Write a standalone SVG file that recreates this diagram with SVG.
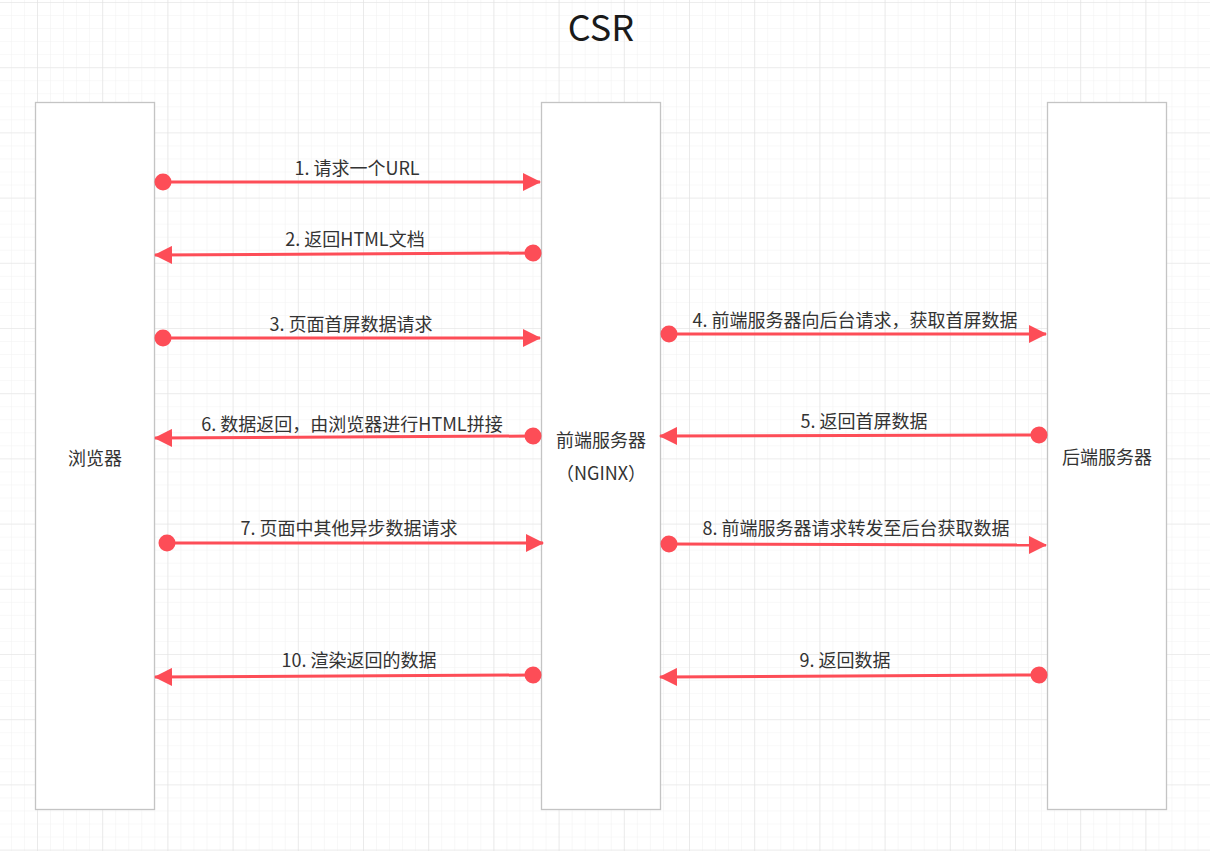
<svg xmlns="http://www.w3.org/2000/svg" width="1210" height="851" viewBox="0 0 1210 851">
<defs>
<pattern id="minor" x="37" y="2" width="13.04" height="13.04" patternUnits="userSpaceOnUse">
<path d="M0 0H13.04M0 0V13.04" fill="none" stroke="#f1f1f1" stroke-width="1"/>
</pattern>
<pattern id="major" x="37" y="2" width="65.2" height="65.2" patternUnits="userSpaceOnUse">
<path d="M0 0H65.2M0 0V65.2" fill="none" stroke="#e2e2e2" stroke-width="1.2"/>
</pattern>
<marker id="arr" viewBox="0 0 18 18" refX="17" refY="9" markerWidth="18" markerHeight="18" markerUnits="userSpaceOnUse" orient="auto">
<path d="M0 0L18 9L0 18Z" fill="#fd4d57"/>
</marker>
<marker id="dot" viewBox="0 0 18 18" refX="9" refY="9" markerWidth="18" markerHeight="18" markerUnits="userSpaceOnUse" orient="auto">
<circle cx="9" cy="9" r="8.5" fill="#fd4d57"/>
</marker>
</defs>
<style>
.box{fill:#fff;stroke:#c4c4c4;stroke-width:1.3}
.nl{font-family:"Noto Sans CJK SC","Noto Sans",sans-serif;font-size:18px;fill:#333;text-anchor:middle}
.el{font-family:"Noto Sans CJK SC","Noto Sans",sans-serif;font-size:18px;fill:#333;text-anchor:middle}
.ln{fill:none;stroke:#fd4d57;stroke-width:3;marker-start:url(#dot);marker-end:url(#arr)}
</style>
<rect width="1210" height="851" fill="#fff"/>
<rect width="1210" height="851" fill="url(#minor)"/>
<rect width="1210" height="851" fill="url(#major)"/>
<text x="601" y="41" font-family="'Noto Sans CJK SC','Noto Sans',sans-serif" font-size="36" fill="#1a1a1a" text-anchor="middle">CSR</text>
<g id="browser">
<rect class="box" x="35.5" y="102.5" width="119" height="707"/>
<text class="nl" x="95" y="464.5">浏览器</text>
</g>
<g id="frontend">
<rect class="box" x="541.5" y="102.5" width="119" height="707"/>
<text class="nl" x="601" y="446.5">前端服务器</text>
<text class="nl" x="601" y="479.5">（NGINX）</text>
</g>
<g id="backend">
<rect class="box" x="1047.5" y="102.5" width="119" height="707"/>
<text class="nl" x="1107" y="463.5">后端服务器</text>
</g>
<g id="connectors">
<path class="ln" d="M163 182L540 182"/>
<text class="el" x="357" y="174.5">1. 请求一个URL</text>
<path class="ln" d="M533 253L155 255"/>
<text class="el" x="355" y="245.5">2. 返回HTML文档</text>
<path class="ln" d="M163 338L540 338"/>
<text class="el" x="351" y="330.5">3. 页面首屏数据请求</text>
<path class="ln" d="M669 334L1046 334"/>
<text class="el" x="855" y="326.5">4. 前端服务器向后台请求，获取首屏数据</text>
<path class="ln" d="M1039 435L660 436"/>
<text class="el" x="864" y="427.5">5. 返回首屏数据</text>
<path class="ln" d="M533 436L155 438"/>
<text class="el" x="352" y="430.5">6. 数据返回，由浏览器进行HTML拼接</text>
<path class="ln" d="M167 543L543 543"/>
<text class="el" x="349" y="534.5">7. 页面中其他异步数据请求</text>
<path class="ln" d="M669 544L1046 545"/>
<text class="el" x="856" y="534.5">8. 前端服务器请求转发至后台获取数据</text>
<path class="ln" d="M1039 675L660 677"/>
<text class="el" x="845" y="666.5">9. 返回数据</text>
<path class="ln" d="M533 675L155 677"/>
<text class="el" x="359" y="666.5">10. 渲染返回的数据</text>
</g>
</svg>
